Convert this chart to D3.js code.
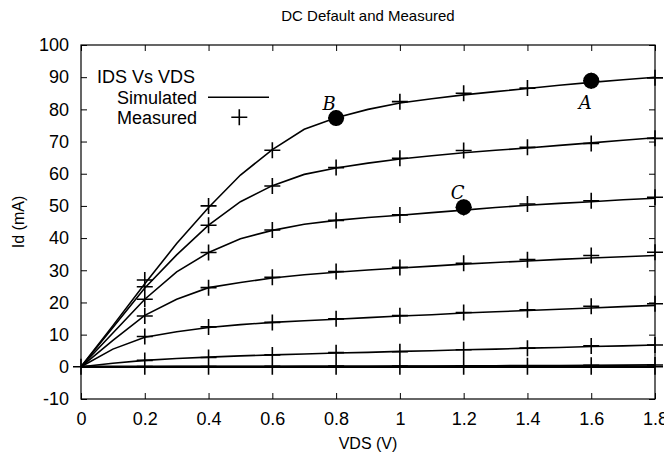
<!DOCTYPE html>
<html>
<head>
<meta charset="utf-8">
<script src="https://cdn.jsdelivr.net/npm/d3@7"></script>
<style>
  html, body { margin: 0; padding: 0; background: #fff; }
  svg { display: block; }
  text { font-family: "Liberation Sans", Arial, Helvetica, sans-serif; fill: #000; }
</style>
</head>
<body>
<svg id="chart" width="664" height="459"></svg>
<script>
// ---------------- data ----------------
const title = "DC Default and Measured";
const xLabel = "VDS (V)";
const yLabel = "Id (mA)";
const legendTitle = "IDS Vs VDS";
const legendSim = "Simulated";
const legendMeas = "Measured";

const xTicks = [0, 0.2, 0.4, 0.6, 0.8, 1, 1.2, 1.4, 1.6, 1.8];
const yTicks = [-10, 0, 10, 20, 30, 40, 50, 60, 70, 80, 90, 100];

// simulated sweep (VDS)
const simVds = [0, 0.1, 0.2, 0.3, 0.4, 0.5, 0.6, 0.7, 0.8, 0.9, 1.0, 1.1, 1.2, 1.3, 1.4, 1.5, 1.6, 1.7, 1.8];
const sim0 = [0, 0, 0, 0, 0, 0, 0, 0, 0, 0, 0, 0, 0, 0, 0, 0, 0, 0, 0];
const sim1 = [0, 0.02, 0.04, 0.06, 0.08, 0.1, 0.12, 0.14, 0.17, 0.2, 0.23, 0.26, 0.3, 0.34, 0.38, 0.43, 0.48, 0.54, 0.6];
const sim2 = [0, 1.1, 2.0, 2.6, 3.0, 3.4, 3.7, 4.0, 4.3, 4.5, 4.8, 5.0, 5.3, 5.5, 5.8, 6.0, 6.3, 6.5, 6.8];
const sim3 = [0, 5.5, 9.2, 10.9, 12.2, 13.1, 13.8, 14.3, 14.8, 15.3, 15.8, 16.2, 16.7, 17.1, 17.5, 17.9, 18.3, 18.7, 19.1];
const sim4 = [0, 8.2, 16.0, 21.0, 24.6, 26.2, 27.6, 28.6, 29.4, 30.1, 30.7, 31.3, 31.9, 32.4, 32.9, 33.4, 33.8, 34.2, 34.6];
const sim5 = [0, 10.5, 21.0, 29.5, 35.5, 39.8, 42.4, 44.3, 45.5, 46.4, 47.1, 47.9, 48.7, 49.5, 50.2, 50.8, 51.3, 51.9, 52.4];
const sim6 = [0, 12.2, 24.5, 34.8, 44.0, 51.3, 56.3, 59.8, 61.8, 63.3, 64.6, 65.6, 66.5, 67.3, 68.0, 68.8, 69.6, 70.4, 71.2];
const sim7 = [0, 12.8, 25.8, 38.3, 49.5, 59.6, 67.5, 73.8, 77.4, 80.0, 82.0, 83.3, 84.5, 85.5, 86.5, 87.5, 88.4, 89.2, 90.0];

// measured points
const measVds = [0, 0.2, 0.4, 0.6, 0.8, 1.0, 1.2, 1.4, 1.6, 1.8];
const meas0 = [0, 0, 0, 0, 0, 0, 0, 0, 0, 0];
const meas1 = [0, 0.05, 0.1, 0.15, 0.2, 0.25, 0.3, 0.35, 0.45, 0.55];
const meas2 = [0, 2.0, 2.9, 3.7, 4.4, 4.7, 5.3, 5.8, 6.5, 6.8];
const meas3 = [0, 9.4, 12.4, 13.8, 14.9, 15.9, 16.9, 17.7, 18.8, 19.6];
const meas4 = [0, 15.8, 24.6, 27.8, 29.6, 30.9, 32.2, 33.3, 34.6, 35.6];
const meas5 = [0, 21.0, 35.5, 42.5, 45.5, 47.2, 49.5, 50.6, 51.6, 52.7];
const meas6 = [0, 24.9, 44.0, 56.2, 61.9, 64.8, 67.2, 68.2, 69.4, 71.0];
const meas7 = [0, 27.0, 50.0, 67.3, 77.3, 82.4, 85.0, 86.6, 88.9, 89.8];

// highlighted operating points
const markNames = ["A", "B", "C"];
const markVds = [1.6, 0.8, 1.2];
const markId = [88.9, 77.3, 49.6];

// ---------------- drawing ----------------
const svg = d3.select("#chart");
const mLeft = 81, mRight = 655, mTop = 45, mBottom = 399;

const x = d3.scaleLinear().domain([0, 1.8]).range([mLeft, mRight]);
const y = d3.scaleLinear().domain([-10, 100]).range([mBottom, mTop]);

const FS = 18;
const tickLen = 6;
const fmt = d => String(d);   // plain hyphen-minus like the reference

// axes (inward ticks, mirrored)
function styleAxis(g, showText) {
  g.select(".domain").remove();
  g.selectAll(".tick line").attr("stroke", "#000").attr("stroke-width", 1);
  g.selectAll(".tick text")
    .style("font-size", FS + "px")
    .style("font-family", "'Liberation Sans', Arial, sans-serif")
    .attr("fill", "#000");
  if (!showText) g.selectAll(".tick text").remove();
}

svg.append("g").attr("transform", `translate(0,${mBottom})`)
  .call(d3.axisBottom(x).tickValues(xTicks).tickSizeInner(-tickLen).tickSizeOuter(0).tickPadding(13).tickFormat(fmt))
  .call(g => styleAxis(g, true));
svg.append("g").attr("transform", `translate(0,${mTop})`)
  .call(d3.axisTop(x).tickValues(xTicks).tickSizeInner(-tickLen).tickSizeOuter(0))
  .call(g => styleAxis(g, false));
svg.append("g").attr("transform", `translate(${mLeft},0)`)
  .call(d3.axisLeft(y).tickValues(yTicks).tickSizeInner(-tickLen).tickSizeOuter(0).tickPadding(12).tickFormat(fmt))
  .call(g => styleAxis(g, true));
svg.append("g").attr("transform", `translate(${mRight},0)`)
  .call(d3.axisRight(y).tickValues(yTicks).tickSizeInner(-tickLen).tickSizeOuter(0))
  .call(g => styleAxis(g, false));

// border
svg.append("rect")
  .attr("x", mLeft).attr("y", mTop)
  .attr("width", mRight - mLeft).attr("height", mBottom - mTop)
  .attr("fill", "none").attr("stroke", "#000").attr("stroke-width", 1.2);

// simulated curves
const simSeries = [sim0, sim1, sim2, sim3, sim4, sim5, sim6, sim7];
const line = d3.line().x((d, i) => x(simVds[i])).y(d => y(d));
svg.append("g").selectAll("path").data(simSeries).join("path")
  .attr("d", d => line(d))
  .attr("fill", "none").attr("stroke", "#000")
  .attr("stroke-width", (d, i) => i === 0 ? 2.6 : 1.6);

// measured crosses
const measSeries = [meas0, meas1, meas2, meas3, meas4, meas5, meas6, meas7];
const pts = [];
measSeries.forEach(s => s.forEach((v, i) => pts.push([measVds[i], v])));
const cr = 8;
const crossPath = d3.path();
pts.forEach(([a, b]) => {
  const cx = x(a), cy = y(b);
  crossPath.moveTo(cx - cr, cy); crossPath.lineTo(cx + cr, cy);
  crossPath.moveTo(cx, cy - cr); crossPath.lineTo(cx, cy + cr);
});
svg.append("path").attr("d", crossPath.toString())
  .attr("fill", "none").attr("stroke", "#000").attr("stroke-width", 1.6);

// highlighted points
svg.append("g").selectAll("circle").data(markVds).join("circle")
  .attr("cx", d => x(d)).attr("cy", (d, i) => y(markId[i])).attr("r", 8).attr("fill", "#000");

const labelOffsets = [[-6, 22], [-7, -15], [-6, -15]];
svg.append("g").selectAll("text").data(markNames).join("text")
  .attr("x", (d, i) => x(markVds[i]) + labelOffsets[i][0])
  .attr("y", (d, i) => y(markId[i]) + labelOffsets[i][1])
  .attr("text-anchor", "middle")
  .attr("dominant-baseline", "central")
  .style("font-family", "'DejaVu Serif', 'Liberation Serif', serif")
  .style("font-style", "italic")
  .style("font-size", "18px")
  .text(d => d);

// legend
svg.append("text").attr("x", 97).attr("y", 83).style("font-size", FS + "px").text(legendTitle);
svg.append("text").attr("x", 197).attr("y", 103.5).attr("text-anchor", "end").style("font-size", FS + "px").text(legendSim);
svg.append("text").attr("x", 197).attr("y", 123.5).attr("text-anchor", "end").style("font-size", FS + "px").text(legendMeas);
svg.append("line").attr("x1", 208).attr("x2", 269).attr("y1", 97.3).attr("y2", 97.3)
  .attr("stroke", "#000").attr("stroke-width", 1.6);
svg.append("path")
  .attr("d", `M${239.3 - cr},117.3H${239.3 + cr}M239.3,${117.3 - cr}V${117.3 + cr}`)
  .attr("stroke", "#000").attr("stroke-width", 1.6).attr("fill", "none");

// title & axis labels
svg.append("text").attr("x", (mLeft + mRight) / 2).attr("y", 21).attr("text-anchor", "middle")
  .style("font-size", "15px").text(title);
svg.append("text").attr("x", (mLeft + mRight) / 2).attr("y", 449).attr("text-anchor", "middle")
  .style("font-size", "16px").text(xLabel);
svg.append("text").attr("transform", `translate(24,${(mTop + mBottom) / 2}) rotate(-90)`)
  .attr("text-anchor", "middle").style("font-size", "16px").text(yLabel);
</script>
</body>
</html>
